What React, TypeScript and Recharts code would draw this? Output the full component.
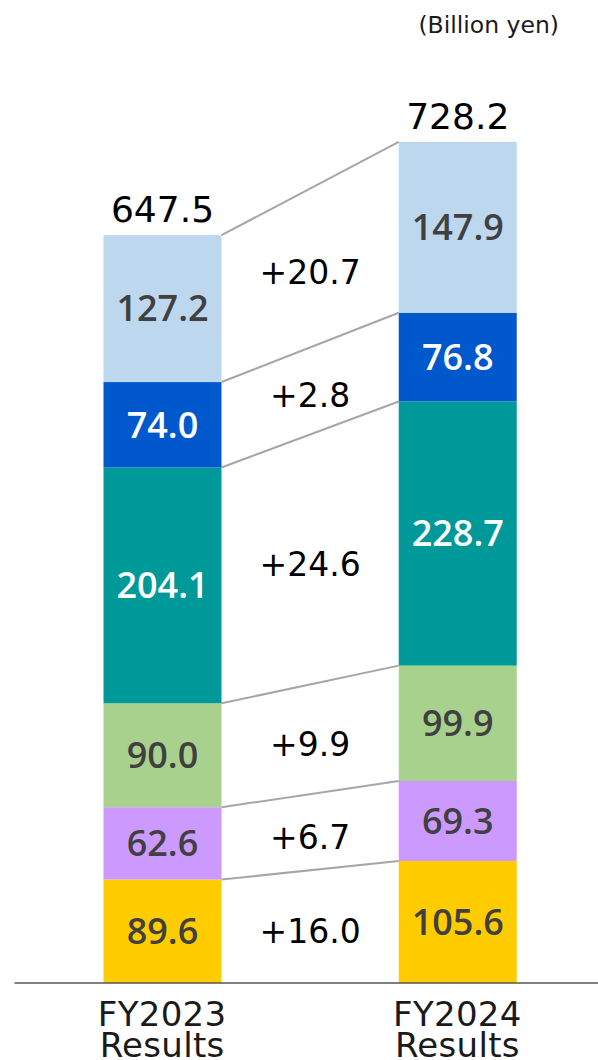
import React from 'react';
import { BarChart, Bar, XAxis, YAxis, LabelList } from 'recharts';

// ---- data ----
const categories = ['FY2023', 'FY2024'];
const categorySub = ['Results', 'Results'];
const segment1 = [89.6, 105.6];
const segment2 = [62.6, 69.3];
const segment3 = [90.0, 99.9];
const segment4 = [204.1, 228.7];
const segment5 = [74.0, 76.8];
const segment6 = [127.2, 147.9];
const totals = [647.5, 728.2];
const diffLabels = ['+16.0', '+6.7', '+9.9', '+24.6', '+2.8', '+20.7'];
const unitLabel = '(Billion yen)';

// ---- styles ----
const seriesKeys = ['s1', 's2', 's3', 's4', 's5', 's6'];
const seriesArrays = [segment1, segment2, segment3, segment4, segment5, segment6];
const seriesColors = ['#FFCC00', '#CC99FF', '#A9D18E', '#009999', '#0059CC', '#BDD7EE'];
const labelColors = ['#404040', '#404040', '#404040', '#FFFFFF', '#FFFFFF', '#404040'];

const data = categories.map((name, i) => {
  const row: any = { name, sub: categorySub[i], total: totals[i] };
  seriesKeys.forEach((k, s) => {
    row[k] = seriesArrays[s][i];
  });
  return row;
});

const CHART_W = 605;
const CHART_H = 1060;
const MARGIN = { top: 59, right: 0, left: 14.5, bottom: 0 };
const XAXIS_H = 77;
const BAR_SIZE = 118;

const FONT = '"DejaVu Sans", sans-serif';

// geometry of already drawn bars (filled by the library's bar shapes, in render order)
const geo: Record<string, { x: number; y: number; width: number; height: number }> = {};

const makeShape = (s: number) => (p: any) => {
  const { x, y, width, height, fill } = p;
  let idx = typeof p.index === 'number' ? p.index : categories.indexOf(p.payload?.name ?? p.name);
  if (idx < 0) idx = 0;
  geo[`${s}-${idx}`] = { x, y, width, height };
  let extra: any = null;
  if (idx === 1) {
    const L = geo[`${s}-0`];
    if (L) {
      const x1 = L.x + L.width;
      const y1 = L.y;
      const x2 = x;
      const y2 = y;
      const midX = (x1 + x2) / 2;
      const midY = (L.y + L.y + L.height + y + y + height) / 4;
      extra = (
        <g>
          <line x1={x1} y1={y1} x2={x2} y2={y2} stroke="#A6A6A6" strokeWidth={2} />
          <text
            x={midX}
            y={midY}
            dy="0.5em"
            textAnchor="middle"
            fill="#000000"
            fontFamily={FONT}
            fontWeight={400}
            fontSize={33}
          >
            {diffLabels[s]}
          </text>
        </g>
      );
    }
  }
  return (
    <g>
      <rect x={x} y={y} width={width} height={height} fill={fill} />
      {extra}
    </g>
  );
};

const CategoryTick = (props: any) => {
  const { x, y, payload, index } = props;
  return (
    <text
      x={x}
      y={y}
      textAnchor="middle"
      fill="#1a1a1a"
      fontFamily={FONT}
      fontWeight={400}
      fontSize={34}
      letterSpacing={0.3}
    >
      <tspan x={x} dy={43}>{payload.value}</tspan>
      <tspan x={x} dy={31}>{categorySub[index] ?? 'Results'}</tspan>
    </text>
  );
};

export default function App() {
  return (
    <div style={{ position: 'absolute', left: 0, top: 0, width: 598, height: 1060, overflow: 'hidden', background: '#fff' }}>
      <div
        style={{
          position: 'absolute',
          left: 0,
          top: 14,
          width: 559,
          textAlign: 'right',
          fontFamily: FONT,
          fontSize: 23.5,
          lineHeight: '23px',
          color: '#1a1a1a',
          whiteSpace: 'nowrap',
        }}
      >
        {unitLabel}
      </div>
      <BarChart width={CHART_W} height={CHART_H} data={data} margin={MARGIN}>
        <XAxis
          dataKey="name"
          height={XAXIS_H}
          tickLine={false}
          tickSize={0}
          tickMargin={0}
          axisLine={{ stroke: '#555555', strokeWidth: 1.5 }}
          tick={<CategoryTick />}
          interval={0}
        />
        <YAxis hide domain={[0, 800]} allowDataOverflow />
        {seriesKeys.map((k, s) => (
          <Bar
            key={k}
            dataKey={k}
            stackId="a"
            fill={seriesColors[s]}
            barSize={BAR_SIZE}
            isAnimationActive={false}
            shape={makeShape(s)}
          >
            <LabelList
              dataKey={k}
              position="center"
              fill={labelColors[s]}
              fontFamily='"Open Sans", sans-serif'
              fontWeight={600}
              fontSize={36}
              formatter={(v: any) => Number(v).toFixed(1)}
            />
            {s === seriesKeys.length - 1 && (
              <LabelList
                dataKey="total"
                position="top"
                offset={13}
                fill="#000000"
                fontFamily={FONT}
                fontWeight={400}
                fontSize={36}
                formatter={(v: any) => Number(v).toFixed(1)}
              />
            )}
          </Bar>
        ))}
      </BarChart>
    </div>
  );
}
